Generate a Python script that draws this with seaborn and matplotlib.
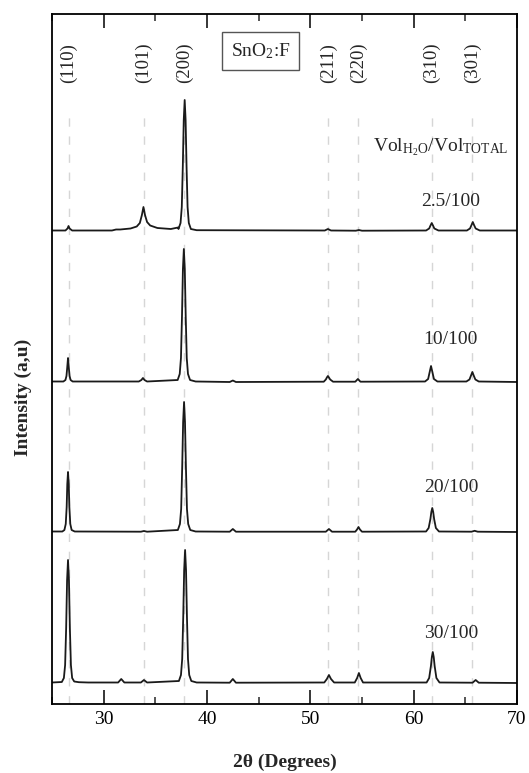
import matplotlib
matplotlib.use("Agg")
import matplotlib.pyplot as plt
from matplotlib.ticker import MultipleLocator
import seaborn as sns
import pandas as pd

# ---------------- data ----------------
samples = ["2.5/100", "10/100", "20/100", "30/100"]
offsets = [452, 301, 151, 0]

# (2theta, intensity above the sample's baseline) points
pts_25 = [(25.0, 0.5), (26.3, 0.5), (26.5, 2.5), (26.6, 5), (26.7, 2.5), (26.95, 0.5),
          (30.8, 0.5), (31.2, 1.5), (31.6, 1.5),
          (32.6, 2.5), (33.2, 4.5), (33.5, 8), (33.7, 16), (33.85, 24), (34.0, 16), (34.2, 9), (34.5, 5.5),
          (35.2, 3), (36.5, 2), (37.2, 3.5),
          (37.24, 2), (37.44, 8), (37.56, 24), (37.66, 65), (37.75, 111), (37.84, 131), (37.93, 111),
          (38.02, 65), (38.12, 24), (38.24, 8), (38.44, 2), (39.0, 0.8),
          (51.4, 0.5), (51.7, 2), (52.0, 0.5), (54.4, 0.3), (54.7, 1), (55.0, 0.3),
          (61.2, 0.5), (61.5, 2.5), (61.63, 5.5), (61.75, 8), (61.87, 5.5), (62.0, 2.5), (62.4, 0.5),
          (65.15, 0.5), (65.45, 2.5), (65.6, 6), (65.72, 9), (65.84, 6), (66.0, 2.5), (66.4, 0.5), (70.0, 0.5)]

pts_10 = [(25.0, 0.5), (26.1, 0.5), (26.3, 2), (26.4, 6), (26.47, 14), (26.55, 24), (26.63, 14), (26.7, 6),
          (26.8, 2), (27.0, 0.5),
          (33.4, 0.5), (33.65, 2), (33.8, 4), (33.95, 2), (34.2, 0.5),
          (37.16, 2), (37.36, 8), (37.48, 24), (37.58, 66), (37.67, 113), (37.76, 133), (37.85, 113),
          (37.94, 66), (38.04, 24), (38.16, 8), (38.36, 2), (38.9, 0.5),
          (42.2, 0), (42.5, 1.5), (42.8, 0),
          (51.3, 0.3), (51.5, 2.5), (51.6, 4.5), (51.7, 6), (51.8, 4.5), (51.92, 2.5), (52.2, 0.3),
          (54.35, 0.3), (54.6, 3), (54.85, 0.3),
          (61.1, 0.5), (61.4, 3), (61.55, 10), (61.68, 16), (61.81, 10), (61.96, 3), (62.3, 0.5),
          (65.1, 0.5), (65.4, 2.5), (65.55, 6.5), (65.68, 10), (65.81, 6.5), (65.97, 2.5), (66.3, 0.5), (70.0, 0)]

pts_20 = [(25.0, 0.5), (26.0, 0.5), (26.2, 2), (26.33, 8), (26.42, 25), (26.48, 48), (26.55, 60), (26.62, 48),
          (26.68, 25), (26.77, 8), (26.9, 2), (27.2, 0.5),
          (33.6, 0.3), (33.9, 1), (34.2, 0.3),
          (37.18, 2), (37.38, 8), (37.5, 23), (37.6, 65), (37.69, 110), (37.78, 130), (37.87, 110),
          (37.96, 65), (38.06, 23), (38.18, 8), (38.38, 2), (38.9, 0.5),
          (42.2, 0.3), (42.5, 3), (42.8, 0.3),
          (51.5, 0.3), (51.8, 3), (52.1, 0.3),
          (54.35, 0.3), (54.52, 2.5), (54.66, 5), (54.8, 2.5), (55.0, 0.3),
          (61.2, 0.5), (61.45, 4), (61.62, 13), (61.71, 20), (61.8, 24), (61.89, 20), (61.98, 13),
          (62.15, 4), (62.45, 0.5),
          (65.6, 0.3), (65.9, 1.2), (66.2, 0.3), (70.0, 0)]

pts_30 = [(25.0, 0.5), (25.95, 1), (26.15, 5), (26.27, 18), (26.37, 55), (26.46, 103), (26.55, 123),
          (26.64, 103), (26.73, 55), (26.83, 18), (26.95, 5), (27.15, 1.5), (27.6, 0.8), (28.5, 0.5),
          (31.4, 0.5), (31.7, 4), (32.0, 0.5),
          (33.6, 0.5), (33.9, 3), (34.2, 0.5),
          (37.28, 2), (37.48, 8), (37.6, 24), (37.7, 66), (37.79, 113), (37.88, 133), (37.97, 113),
          (38.06, 66), (38.16, 24), (38.28, 8), (38.48, 2), (39.0, 0.5),
          (42.2, 0.3), (42.5, 4), (42.8, 0.3),
          (51.35, 0.5), (51.6, 4), (51.8, 8), (52.0, 4), (52.3, 0.5),
          (54.3, 0.5), (54.53, 5), (54.7, 10), (54.87, 5), (55.1, 0.5),
          (61.25, 0.5), (61.5, 5), (61.67, 17), (61.76, 26), (61.85, 31), (61.94, 26), (62.03, 17),
          (62.2, 5), (62.5, 0.5),
          (65.7, 0.3), (66.0, 3), (66.3, 0.3), (70.0, 0)]

hkl_labels = ["(110)", "(101)", "(200)", "(211)", "(220)", "(310)", "(301)"]
hkl_pos = [26.6, 33.9, 37.8, 51.75, 54.65, 61.75, 65.65]

x_ticks = [30, 40, 50, 60, 70]

# ---------------- build table ----------------
rows = []
for name, off, pts in zip(samples, offsets, [pts_25, pts_10, pts_20, pts_30]):
    for a, b in pts:
        rows.append({"two_theta": a, "intensity": b + off, "sample": name})
df = pd.DataFrame(rows)

# ---------------- style ----------------
sns.set_style("ticks")
plt.rcParams["font.family"] = ["Liberation Serif", "DejaVu Serif"]
plt.rcParams["mathtext.fontset"] = "custom"
plt.rcParams["mathtext.rm"] = "Liberation Serif"
plt.rcParams["mathtext.it"] = "Liberation Serif:italic"
plt.rcParams["mathtext.bf"] = "Liberation Serif:bold"

fig = plt.figure(figsize=(5.29, 7.73), dpi=100)
ax = fig.add_axes([52 / 529, 1 - 704 / 773, 465 / 529, 690 / 773])

for p in hkl_pos:
    ax.axvline(p, ymin=0, ymax=0.86, color="#d6d6d6", lw=1.0, ls=(0, (6, 7)), zorder=0)

sns.lineplot(data=df, x="two_theta", y="intensity", hue="sample", units="sample",
             estimator=None, sort=False, palette=["#1a1a1a"] * 4, legend=False,
             lw=1.3, ax=ax)

ax.set_xlim(25, 70)
ax.set_ylim(-21, 669)
ax.set_xticks(x_ticks)
ax.xaxis.set_minor_locator(MultipleLocator(5))
ax.set_yticks([])
ax.tick_params(axis="x", which="major", direction="in", length=10, width=1.1, top=True,
               labelsize=14, pad=5, colors="black")
ax.tick_params(axis="x", which="minor", direction="in", length=5, width=1.1, top=True)
for s in ax.spines.values():
    s.set_linewidth(1.3)
    s.set_color("black")

ax.set_xlabel("2θ (Degrees)", fontsize=14, fontweight="bold")
ax.xaxis.set_label_coords(0.5, -0.072)
ax.set_ylabel("Intensity (a,u)", fontsize=14, fontweight="bold")
ax.yaxis.set_label_coords(-0.043, 0.445)

for lab, p in zip(hkl_labels, hkl_pos):
    ax.text(p, 620, lab, rotation=90, ha="center", va="center", fontsize=13.5)

ax.text(45.2, 632, "SnO$_2$:F", ha="center", va="center", fontsize=14,
        bbox=dict(boxstyle="square,pad=0.45", fc="white", ec="#555555", lw=1.0))

ax.text(62.6, 536, r"Vol$_{\mathrm{H_2O}}$/Vol$_{\mathrm{TOTAL}}$", ha="center", va="center", fontsize=14)

label_y = [481, 344, 196, 50]
for name, ly in zip(samples, label_y):
    ax.text(63.6, ly, name, ha="center", va="center", fontsize=14)

fig.savefig("out.png", dpi=100)
